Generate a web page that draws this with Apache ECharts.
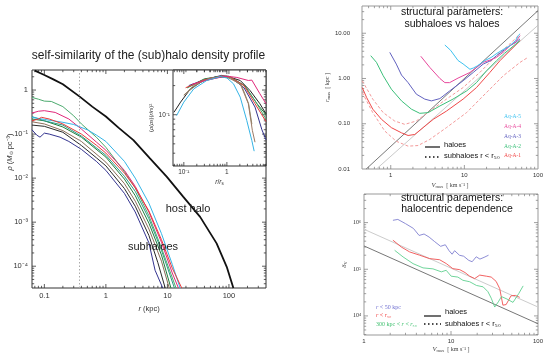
<!DOCTYPE html>
<html>
<head>
<meta charset="utf-8">
<script src="https://cdn.jsdelivr.net/npm/echarts@6/dist/echarts.min.js"></script>
<style>
  html, body { margin: 0; padding: 0; background: #fff; }
  #chart { width: 550px; height: 356px; }
</style>
</head>
<body>
<div id="chart"></div>
<script>
'use strict';

// ---- left panel: density profiles, [r (kpc), rho (Msun pc^-3)]
var hostHalo = [[0.07,2.75],[0.1,2.2],[0.14,1.75],[0.2,1.35],[0.38,0.7],[0.6,0.42],[1,0.25],[1.6,0.14],[2.8,0.073],[5.2,0.028],[9.8,0.0107],[18,3.8e-3],[34,1.32e-3],[63,3.3e-4],[92,9.7e-5],[118,3.2e-5]];
var subNavy = [[0.063,0.125],[0.075,0.095],[0.085,0.085],[0.1,0.105],[0.12,0.1],[0.18,0.085],[0.25,0.068],[0.4,0.045],[0.7,0.024],[1,0.015],[2,4.5e-3],[3,1.7e-3],[5,3.4e-4],[6.3,8.1e-5],[8.4,3.2e-5]];
var subBlack = [[0.063,0.16],[0.1,0.15],[0.2,0.11],[0.4,0.055],[0.7,0.029],[1,0.019],[2,5.8e-3],[3,2.3e-3],[5,5e-4],[7,1.2e-4],[9.2,3.2e-5]];
var subBrown = [[0.063,0.19],[0.1,0.17],[0.2,0.12],[0.4,0.068],[1,0.023],[2,7.5e-3],[3,3e-3],[5,7e-4],[8,1.3e-4],[10.7,3.2e-5]];
var subDarkGreen = [[0.063,0.22],[0.1,0.2],[0.2,0.145],[0.4,0.085],[1,0.03],[2,9.5e-3],[3,4e-3],[5,9.5e-4],[8,1.8e-4],[11.4,3.2e-5]];
var subTeal = [[0.063,0.25],[0.1,0.2],[0.2,0.16],[0.4,0.09],[1,0.033],[2,0.011],[3,5e-3],[5,1.2e-3],[8,2.3e-4],[13,3.2e-5]];
var subLightGreen = [[0.063,0.68],[0.08,0.62],[0.1,0.56],[0.13,0.55],[0.2,0.42],[0.3,0.26],[0.4,0.17],[0.7,0.085],[1,0.05],[2,0.014],[3,6e-3],[5,1.4e-3],[8,2.6e-4],[13.8,3.2e-5]];
var subMagenta = [[0.063,0.3],[0.08,0.33],[0.1,0.34],[0.15,0.31],[0.25,0.22],[0.4,0.13],[0.7,0.066],[1,0.043],[2,0.015],[3,6.5e-3],[5,1.7e-3],[8,3.5e-4],[12,7e-5],[15.1,3.2e-5]];
var subCyan = [[0.063,0.24],[0.1,0.215],[0.2,0.185],[0.3,0.165],[0.5,0.125],[0.7,0.095],[1,0.068],[2,0.024],[3,0.01],[5,2.7e-3],[8,5.5e-4],[12,1.1e-4],[16.1,3.2e-5]];
var subRed = [[0.063,0.2],[0.08,0.22],[0.09,0.24],[0.12,0.22],[0.2,0.17],[0.4,0.1],[0.7,0.056],[1,0.037],[2,0.013],[3,6e-3],[5,1.8e-3],[8,4e-4],[12,9e-5],[17.1,3.2e-5]];
var softeningR = 0.37;

// ---- inset: [r/rs, (rho/rhos)(r/rs)^2]
var inBlack = [[0.059,0.106],[0.084,0.135],[0.142,0.185],[0.29,0.226],[0.59,0.248],[1.0,0.25],[2.04,0.226],[3.45,0.178],[5.83,0.13],[8.1,0.102]];
var inCyan = [[0.068,0.098],[0.1,0.135],[0.17,0.185],[0.34,0.226],[0.7,0.248],[1.0,0.24],[1.42,0.209],[2.04,0.152],[2.9,0.087],[3.8,0.054],[4.3,0.042]];
var inMagenta = [[0.156,0.206],[0.29,0.224],[0.59,0.24],[1.0,0.25],[1.7,0.243],[3.15,0.226],[3.8,0.228],[5.83,0.165],[8.1,0.13]];
var inBrown = [[0.1,0.158],[0.17,0.2],[0.41,0.24],[1,0.245],[2.04,0.209],[3.15,0.13],[3.9,0.069],[4.5,0.052]];
var inGreen = [[0.12,0.19],[0.3,0.23],[0.7,0.25],[1.1,0.25],[2.5,0.2],[4.5,0.14],[8.1,0.09]];
var inNavy = [[0.13,0.2],[0.3,0.23],[0.75,0.255],[1.2,0.245],[2.5,0.19],[4.5,0.12],[6.5,0.07],[8.1,0.055]];
var inRed = [[0.11,0.19],[0.3,0.23],[0.8,0.252],[1.2,0.245],[2.5,0.2],[4.5,0.13],[8.1,0.085]];
var inDarkGreen = [[0.12,0.19],[0.3,0.235],[0.75,0.25],[1.3,0.24],[2.6,0.2],[5,0.13],[8.1,0.1]];
var inOlive = [[0.1,0.16],[0.25,0.22],[0.7,0.245],[1.2,0.24],[2.2,0.2],[3.2,0.13],[3.8,0.08]];

// ---- upper right: [Vmax (km/s), rmax (kpc)]
var aqA5 = [[5.43,5.5],[6.5,4.2],[8.2,2.5],[9.6,2.1],[11.9,1.6],[13.2,1.7],[15,1.9],[19,2.5],[23,2.9],[27,3.5],[33,4.3],[41.5,5.3],[50,7],[54,8.9],[57,9.7]];
var aqA4 = [[2.56,3.1],[3.39,1.76],[4.65,1.0],[5.43,0.81],[6.3,0.81],[8.2,1.02],[11.9,1.36],[18,2.27],[23,2.6],[27.3,2.93],[35,4],[41.5,5.3],[50,6.5],[57,8.9]];
var aqA3 = [[0.97,3.78],[1.19,2.08],[1.4,1.19],[1.72,0.81],[2.23,0.45],[2.9,0.35],[3.57,0.32],[4.65,0.36],[6.3,0.53],[9.6,0.89],[13.2,1.36],[18,2.08],[23,2.5],[27.3,3.19],[35,4.3],[41.5,5.3],[50,6.3],[57,7.5]];
var aqA2 = [[0.535,3.19],[0.64,2.27],[0.79,1.15],[1.02,0.58],[1.4,0.32],[1.91,0.21],[2.48,0.17],[3.22,0.176],[4.65,0.247],[7.0,0.35],[10.7,0.53],[14.6,0.81],[20,1.48],[27.3,2.47],[35,3.6],[41.5,4.5],[50,5.8],[57,6.9]];
var aqA1 = [[0.41,0.63],[0.47,0.38],[0.57,0.21],[0.75,0.125],[1.02,0.082],[1.4,0.063],[1.72,0.055],[2.12,0.058],[2.75,0.082],[3.77,0.125],[5.7,0.19],[9.6,0.35],[14.6,0.63],[22.2,1.36],[30.4,2.47],[41.5,4.1],[57,6.9]];
var aqA1Hi = [[0.41,0.89],[0.57,0.35],[0.79,0.176],[1.13,0.115],[1.55,0.097],[2.23,0.115],[3.39,0.19],[5.7,0.35],[9.6,0.63],[16.2,1.36],[27.3,3.2],[41.5,5.8],[57,9.7]];
var aqA1Lo = [[0.41,0.49],[0.57,0.176],[0.83,0.069],[1.19,0.041],[1.72,0.032],[2.35,0.033],[3.39,0.045],[5.7,0.082],[10.7,0.176],[20,0.49],[33.8,1.15],[57,2.27],[73,2.93]];
var haloFit = [[0.464,0.01],[100,31.6]];
var subFit = [[0.64,0.01],[100,15]];

// ---- lower right: [Vmax (km/s), delta_V]
var dvInner = [[2.15,1.12e6],[2.45,1.17e6],[3.0,9.5e5],[3.7,7.5e5],[4.3,5.3e5],[4.9,5.7e5],[5.6,4.9e5],[6.5,3.9e5],[7.6,3.1e5],[8.6,3.35e5],[9.5,2.5e5],[10.3,2.1e5],[11.0,2.5e5],[12.5,2.0e5],[14,1.9e5],[16,1.55e5],[17.5,1.45e5],[19.5,1.85e5],[21.5,1.65e5],[24,1.8e5],[27,2.0e5]];
var dvR50 = [[2.15,4.2e5],[2.68,3.0e5],[3.35,2.35e5],[4.37,2.0e5],[5.67,1.69e5],[7.4,1.6e5],[8.84,1.32e5],[10.5,1.03e5],[12.6,9.8e4],[14.5,8.5e4],[16.4,7.1e4],[18.7,6.3e4],[21.4,7.5e4],[25.5,7.1e4],[29,6.8e4],[33,5.5e4],[36.3,3.85e4],[39.5,1.7e4],[43,1.75e4],[49,2.7e4],[55,2.75e4],[61.6,2.5e4]];
var dvOuter = [[2.25,2.55e5],[2.81,1.84e5],[3.66,1.32e5],[4.77,1.07e5],[6.2,1.02e5],[7.75,8.8e4],[8.8,9.5e4],[10.05,7.1e4],[12,6.8e4],[13.7,5.8e4],[16.4,5.4e4],[19.6,4.5e4],[23.4,4.2e4],[26.6,3.3e4],[29,2.4e4],[31.8,1.55e4],[35,2.0e4],[38,2.6e4],[44,2.3e4],[51.6,1.95e4],[60,3.0e4],[67.5,4.4e4]];
var dvSubFit = [[1,7.2e5],[100,1.55e4]];
var dvHaloFit = [[1,3.16e5],[100,6.8e3]];

var aqNames = ['Aq-A-5','Aq-A-4','Aq-A-3','Aq-A-2','Aq-A-1'];
var aqColors = ['#3ec2f0','#e8489c','#6262c0','#3cc07a','#f04848'];

var SANS = '"Liberation Sans", Arial, sans-serif';
var SERIF = '"Liberation Serif", "Times New Roman", serif';

// axis ranges [xmin, xmax, ymin, ymax] for each grid
var ranges = [
  [0.063, 400, 3.2e-5, 2.85],
  [0.056, 8.1, 0.0295, 0.29],
  [0.407, 100, 0.01, 40],
  [1, 100, 3.9e3, 4.1e6]
];

var SUP = {'-':'\u207b','0':'\u2070','1':'\u00b9','2':'\u00b2','3':'\u00b3','4':'\u2074','5':'\u2075','6':'\u2076','7':'\u2077','8':'\u2078','9':'\u2079'};
function sup(s){ return String(s).split('').map(function(c){ return SUP[c] || c; }).join(''); }
function decade(v){ var l = Math.log10(v), n = Math.round(l); return Math.abs(l - n) < 1e-6 ? n : null; }
function fmtPow(v){ var n = decade(v); if (n === null) return ''; return n === 0 ? '1' : '10' + sup(n); }
function fmtPlain(v){ var n = decade(v); if (n === null) return ''; return n < 0 ? String(Math.pow(10, n).toFixed(-n)) : String(Math.pow(10, n)); }
function fmtFixed(v){ var n = decade(v); if (n === null) return ''; return Math.pow(10, n).toFixed(2); }

function logAxis(gi, min, max, fmt, lab, extra){
  var ax = {
    type: 'log', logBase: 10, gridIndex: gi, min: min, max: max,
    axisLine: { show: false }, axisTick: { show: false }, splitLine: { show: false },
    axisLabel: { formatter: fmt, fontFamily: lab.family, fontSize: lab.size, color: '#333', margin: lab.margin }
  };
  for (var k in extra) ax[k] = extra[k];
  return ax;
}

// log minor/major tick values inside a range, for the tick marks drawn on all four sides
function tickVals(lo, hi){
  var out = [];
  for (var d = Math.floor(Math.log10(lo)); d <= Math.ceil(Math.log10(hi)); d++) {
    for (var k = 1; k <= 9; k++) {
      var v = k * Math.pow(10, d);
      if (v > lo * 1.0001 && v < hi * 0.9999) out.push([v, k === 1 ? 4 : 2.2]);
    }
  }
  return out;
}

function tickSeries(gi, color){
  var r = ranges[gi];
  var ym = Math.sqrt(r[2] * r[3]), xm = Math.sqrt(r[0] * r[1]);
  var xs = tickVals(r[0], r[1]).map(function(t){ return [t[0], ym, t[1]]; });
  var ys = tickVals(r[2], r[3]).map(function(t){ return [xm, t[0], t[1]]; });
  var st = { stroke: color, lineWidth: 0.8 };
  return [{
    type: 'custom', xAxisIndex: gi, yAxisIndex: gi, silent: true, data: xs,
    renderItem: function(params, api){
      var x = api.coord([api.value(0), api.value(1)])[0], cs = params.coordSys, L = api.value(2);
      return { type: 'group', children: [
        { type: 'line', shape: { x1: x, y1: cs.y + cs.height, x2: x, y2: cs.y + cs.height - L }, style: st },
        { type: 'line', shape: { x1: x, y1: cs.y, x2: x, y2: cs.y + L }, style: st }
      ] };
    }
  }, {
    type: 'custom', xAxisIndex: gi, yAxisIndex: gi, silent: true, data: ys,
    renderItem: function(params, api){
      var y = api.coord([api.value(0), api.value(1)])[1], cs = params.coordSys, L = api.value(2);
      return { type: 'group', children: [
        { type: 'line', shape: { x1: cs.x, y1: y, x2: cs.x + L, y2: y }, style: st },
        { type: 'line', shape: { x1: cs.x + cs.width, y1: y, x2: cs.x + cs.width - L, y2: y }, style: st }
      ] };
    }
  }];
}

function line(gi, data, color, width, type){
  return {
    type: 'line', xAxisIndex: gi, yAxisIndex: gi, data: data, symbol: 'none', silent: true,
    lineStyle: { color: color, width: width || 1, type: type || 'solid' }, z: 3
  };
}

var series = [
  line(0, subNavy, '#33338f', 1),
  line(0, subBlack, '#2a2a2a', 1),
  line(0, subBrown, '#8c6e5a', 1),
  line(0, subDarkGreen, '#1e7e3c', 1),
  line(0, subTeal, '#2a9a86', 1),
  line(0, subLightGreen, '#4caa6e', 1),
  line(0, subMagenta, '#e0287a', 1),
  line(0, subCyan, '#35b4e6', 1),
  line(0, subRed, '#e83a3a', 1),
  line(0, hostHalo, '#111', 1.8),
  line(1, inBlack, '#222', 1),
  line(1, inNavy, '#33338f', 1),
  line(1, inDarkGreen, '#1e7e3c', 1),
  line(1, inGreen, '#4caa6e', 1),
  line(1, inRed, '#e83a3a', 1),
  line(1, inOlive, '#8c8c6a', 1),
  line(1, inBrown, '#9c7a66', 1),
  line(1, inMagenta, '#e0287a', 1),
  line(1, inCyan, '#35b4e6', 1),
  line(2, haloFit, '#555', 0.8),
  line(2, subFit, '#bbb', 0.8),
  line(2, aqA1Hi, '#f49a9a', 1, [3, 2]),
  line(2, aqA1Lo, '#f49a9a', 1, [3, 2]),
  line(2, aqA1, aqColors[4], 1),
  line(2, aqA2, aqColors[3], 1),
  line(2, aqA3, aqColors[2], 1),
  line(2, aqA4, aqColors[1], 1),
  line(2, aqA5, aqColors[0], 1),
  line(3, dvHaloFit, '#777', 1),
  line(3, dvSubFit, '#ccc', 1),
  line(3, dvInner, '#8080d0', 0.9),
  line(3, dvR50, '#f05050', 0.9),
  line(3, dvOuter, '#60d090', 0.9)
];
// softening scale of the left panel
series[0].markLine = {
  silent: true, symbol: 'none', label: { show: false },
  lineStyle: { color: '#aaa', type: [1.5, 2], width: 1 },
  data: [{ xAxis: softeningR }]
};
series = series.concat(tickSeries(0, '#333'), tickSeries(1, '#333'), tickSeries(2, '#888'), tickSeries(3, '#888'));

var labL = { family: SANS, size: 7.5, margin: 4 };
var labI = { family: SANS, size: 6.5, margin: 3 };
var labR = { family: SANS, size: 6, margin: 3 };

var option = {
  animation: false,
  backgroundColor: '#fff',
  grid: [
    { left: 32, top: 70, width: 234, height: 218, show: true, borderColor: '#333', borderWidth: 1, backgroundColor: 'transparent' },
    { left: 173, top: 70, width: 93, height: 96, show: true, borderColor: '#333', borderWidth: 1, backgroundColor: '#fff', z: 1 },
    { left: 362, top: 6, width: 176, height: 163, show: true, borderColor: '#999', borderWidth: 1, backgroundColor: 'transparent' },
    { left: 364, top: 194, width: 174, height: 141, show: true, borderColor: '#999', borderWidth: 1, backgroundColor: 'transparent' }
  ],
  xAxis: [
    logAxis(0, ranges[0][0], ranges[0][1], fmtPlain, labL, {
      name: '{i|r} (kpc)', nameLocation: 'middle', nameGap: 15,
      nameTextStyle: { fontFamily: SANS, fontSize: 7.5, color: '#333', rich: { i: { fontStyle: 'italic', fontFamily: SANS, fontSize: 7.5 } } }
    }),
    logAxis(1, ranges[1][0], ranges[1][1], fmtPow, labI, {
      name: '{i|r}/{i|r}{s|s}', nameLocation: 'middle', nameGap: 13,
      nameTextStyle: { fontFamily: SANS, fontSize: 6.5, color: '#333', rich: { i: { fontStyle: 'italic', fontFamily: SANS, fontSize: 6.5 }, s: { fontSize: 4.5, fontFamily: SANS, verticalAlign: 'bottom' } } }
    }),
    logAxis(2, ranges[2][0], ranges[2][1], fmtPlain, labR, {
      name: '{i|V}{s|max}  [ km s\u207b\u00b9 ]', nameLocation: 'middle', nameGap: 13,
      nameTextStyle: { fontFamily: SERIF, fontSize: 6, color: '#444', rich: { i: { fontStyle: 'italic', fontFamily: SERIF, fontSize: 6.5 }, s: { fontFamily: SERIF, fontSize: 4.5, verticalAlign: 'bottom' } } }
    }),
    logAxis(3, ranges[3][0], ranges[3][1], fmtPlain, labR, {
      name: '{i|V}{s|max}  [ km s\u207b\u00b9 ]', nameLocation: 'middle', nameGap: 11,
      nameTextStyle: { fontFamily: SERIF, fontSize: 6, color: '#444', rich: { i: { fontStyle: 'italic', fontFamily: SERIF, fontSize: 6.5 }, s: { fontFamily: SERIF, fontSize: 4.5, verticalAlign: 'bottom' } } }
    })
  ],
  yAxis: [
    logAxis(0, ranges[0][2], ranges[0][3], fmtPow, labL, {}),
    logAxis(1, ranges[1][2], ranges[1][3], fmtPow, labI, {
      name: '({i|\u03c1}/{i|\u03c1}{s|s})({i|r}/{i|r}{s|s})\u00b2', nameLocation: 'middle', nameGap: 16,
      nameTextStyle: { fontFamily: SANS, fontSize: 6, color: '#333', rich: { i: { fontStyle: 'italic', fontFamily: SANS, fontSize: 6 }, s: { fontSize: 4.5, fontFamily: SANS, verticalAlign: 'bottom' } } }
    }),
    logAxis(2, ranges[2][2], ranges[2][3], fmtFixed, { family: SANS, size: 6, margin: 12 }, {
      name: '{i|r}{s|max}  [ kpc ]', nameLocation: 'middle', nameGap: 23,
      nameTextStyle: { fontFamily: SERIF, fontSize: 6, color: '#444', rich: { i: { fontStyle: 'italic', fontFamily: SERIF, fontSize: 6.5 }, s: { fontFamily: SERIF, fontSize: 4.5, verticalAlign: 'bottom' } } }
    }),
    logAxis(3, ranges[3][2], ranges[3][3], fmtPow, { family: SERIF, size: 6, margin: 3 }, {
      name: '{i|\u03b4}{s|V}', nameLocation: 'middle', nameGap: 16,
      nameTextStyle: { fontFamily: SERIF, fontSize: 6.5, color: '#444', rich: { i: { fontStyle: 'italic', fontFamily: SERIF, fontSize: 7 }, s: { fontFamily: SERIF, fontSize: 4.5, verticalAlign: 'bottom' } } }
    })
  ],
  series: series,
  graphic: []
};

var g = option.graphic;
function txt(x, y, s, font, color, align, extra){
  var el = { type: 'text', x: x, y: y, silent: true, z: 10,
    style: { text: s, font: font, fill: color || '#222', align: align || 'center', verticalAlign: 'middle' } };
  for (var k in extra) el.style[k] = extra[k];
  g.push(el);
}
txt(148.5, 56, 'self-similarity of the (sub)halo density profile', '12px ' + SANS, '#222');
txt(188, 209, 'host halo', '11px ' + SANS, '#222');
txt(153, 247, 'subhaloes', '11px ' + SANS, '#222');
g.push({ type: 'text', x: 10, y: 152, rotation: Math.PI / 2, silent: true,
  style: { text: '{i|\u03c1} ({i|M}{s|\u2299} pc\u207b\u00b3)', font: '7.5px ' + SANS, fill: '#333', align: 'center', verticalAlign: 'middle',
    rich: { i: { fontStyle: 'italic', fontSize: 7.5, fontFamily: SANS }, s: { fontSize: 5, fontFamily: SANS, verticalAlign: 'bottom' } } } });

txt(452, 12, 'structural parameters:', '10.5px ' + SANS, '#111');
txt(452, 24, 'subhaloes vs haloes', '10.5px ' + SANS, '#111');
txt(452, 198, 'structural parameters:', '10.5px ' + SANS, '#111');
txt(457, 209.5, 'halocentric dependence', '10.5px ' + SANS, '#111');

// upper right legends
aqNames.forEach(function(n, i){ txt(504, 116.7 + i * 9.8, n, '5.5px ' + SERIF, aqColors[i], 'left'); });
g.push({ type: 'line', silent: true, shape: { x1: 425, y1: 147, x2: 440, y2: 147 }, style: { stroke: '#111', lineWidth: 1.2 } });
g.push({ type: 'line', silent: true, shape: { x1: 425, y1: 157, x2: 440, y2: 157 }, style: { stroke: '#111', lineWidth: 1.5, lineDash: [1.5, 2.5] } });
txt(444, 144.5, 'haloes', '7.5px ' + SANS, '#111', 'left');
txt(444, 156, 'subhaloes r < r\u2085\u2080', '7.5px ' + SANS, '#111', 'left');

// lower right legends
txt(376, 307, '{i|r} < 50 kpc', '6px ' + SERIF, '#7070d0', 'left', { rich: { i: { fontStyle: 'italic', fontFamily: SERIF, fontSize: 6 } } });
txt(376, 315.5, '{i|r} < {i|r}\u2085\u2080', '6px ' + SERIF, '#f04040', 'left', { rich: { i: { fontStyle: 'italic', fontFamily: SERIF, fontSize: 6 } } });
txt(376, 324.5, '300 kpc < {i|r} < {i|r}\u2085\u2080', '6px ' + SERIF, '#40c070', 'left', { rich: { i: { fontStyle: 'italic', fontFamily: SERIF, fontSize: 6 } } });
g.push({ type: 'line', silent: true, shape: { x1: 424, y1: 316, x2: 441, y2: 316 }, style: { stroke: '#111', lineWidth: 1.2 } });
g.push({ type: 'line', silent: true, shape: { x1: 424, y1: 324, x2: 441, y2: 324 }, style: { stroke: '#111', lineWidth: 1.5, lineDash: [1.5, 2.5] } });
txt(445, 312, 'haloes', '7.5px ' + SANS, '#111', 'left');
txt(445, 323.5, 'subhaloes r < r\u2085\u2080', '7.5px ' + SANS, '#111', 'left');

var chart = echarts.init(document.getElementById('chart'), null, { renderer: 'canvas' });
chart.setOption(option);
</script>
</body>
</html>
